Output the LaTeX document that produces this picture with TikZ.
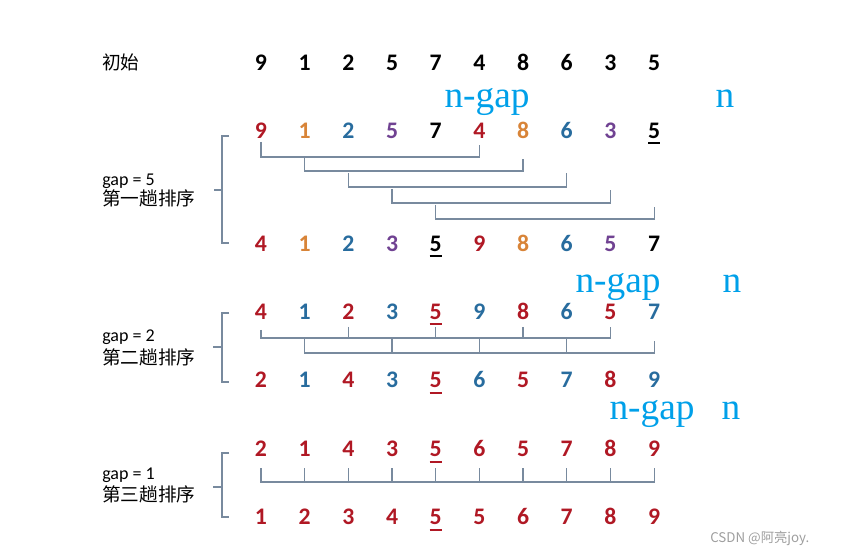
\documentclass[tikz,border=0pt]{standalone}
\usepackage{fontspec}
\newfontfamily\digfont{Carlito}
\newfontfamily\cjkfont{Noto Sans CJK SC}
\newfontfamily\gapfont{Liberation Serif}
\definecolor{dred}{RGB}{176,24,36}
\definecolor{orng}{RGB}{216,132,56}
\definecolor{dblu}{RGB}{40,108,158}
\definecolor{purp}{RGB}{112,66,146}
\definecolor{skyb}{RGB}{0,160,233}
\definecolor{lnk}{RGB}{120,138,158}
\newcommand{\udig}[1]{\setbox0\hbox{#1}\rlap{\rule[-4.5pt]{\wd0}{1.5pt}}\box0}

\tikzset{
  dig/.style={font=\digfont\bfseries\fontsize{17.8}{20}\selectfont, anchor=base, inner sep=0pt},
  lab/.style={font=\digfont\fontsize{13.5}{16}\selectfont, anchor=base west, inner sep=0pt},
  cjk/.style={font=\cjkfont\fontsize{14}{16}\selectfont, anchor=base west, inner sep=0pt},
  ngap/.style={font=\gapfont\fontsize{28}{30}\selectfont, text=skyb, anchor=base, inner sep=0pt, text height=1.1ex},
  link/.style={draw=lnk, line width=0.8pt},
}

\begin{document}
\begin{tikzpicture}[x=0.75pt, y=-0.75pt]
  \useasboundingbox (0,0) rectangle (841,555);

  % start row
  \node (init) [cjk] at (102,70) {初始};
  \foreach \d [count=\i from 0] in {9,1,2,5,7,4,8,6,3,5}
    \node (s0-\i) [dig] at ({261+43.67*\i},70.5) {\d};

  % gap = 5
  \node (g1) [ngap] at (487,108) {n-gap};
  \node (n1) [ngap] at (725,108) {n};
  \foreach \d/\c [count=\i from 0] in {9/dred,1/orng,2/dblu,5/purp,7/black,4/dred,8/orng,6/dblu,3/purp,\udig{5}/black}
    \node (s1-\i) [dig, text=\c] at ({261+43.67*\i},138.5) {\d};
  \foreach \d/\c [count=\i from 0] in {4/dred,1/orng,2/dblu,3/purp,\udig{5}/black,9/dred,8/orng,6/dblu,5/purp,7/black}
    \node (s2-\i) [dig, text=\c] at ({261+43.67*\i},251.5) {\d};
  \draw[link] (s1-0 |- 0,142) |- (s1-5 |- 0,157) -- (s1-5 |- 0,145);
  \draw[link] (s1-1 |- 0,157) |- (s1-6 |- 0,171) -- (s1-6 |- 0,159);
  \draw[link] (s1-2 |- 0,173) |- (s1-7 |- 0,187) -- (s1-7 |- 0,173);
  \draw[link] (s1-3 |- 0,189) |- (s1-8 |- 0,203) -- (s1-8 |- 0,190);
  \draw[link] (s1-4 |- 0,205) |- (s1-9 |- 0,219) -- (s1-9 |- 0,207);
  \draw[link] (229,136) -- (222,136) -- (222,243) -- (229,243);
  \draw[link] (222,190) -- (214,190);
  \node (p1) [lab] at (102,186) {gap = 5};
  \node (t1) [cjk] at (102,206) {第一趟排序};

  % gap = 2
  \node (g2) [ngap] at (618,293) {n-gap};
  \node (n2) [ngap] at (732,293) {n};
  \foreach \d/\c [count=\i from 0] in {4/dred,1/dblu,2/dred,3/dblu,\udig{5}/dred,9/dblu,8/dred,6/dblu,5/dred,7/dblu}
    \node (s3-\i) [dig, text=\c] at ({261+43.67*\i},319.5) {\d};
  \foreach \d/\c [count=\i from 0] in {2/dred,1/dblu,4/dred,3/dblu,\udig{5}/dred,6/dblu,5/dred,7/dblu,8/dred,9/dblu}
    \node (s4-\i) [dig, text=\c] at ({261+43.67*\i},387.5) {\d};
  \draw[link] (s3-0 |- 0,330) |- (s3-8 |- 0,338) -- (s3-8 |- 0,327);
  \draw[link] (s3-1 |- 0,338) |- (s3-9 |- 0,353) -- (s3-9 |- 0,341);
  \foreach \k in {2,4,6}
    \draw[link] (s3-\k |- 0,327) -- (s3-\k |- 0,338);
  \foreach \k in {3,5,7}
    \draw[link] (s3-\k |- 0,338) -- (s3-\k |- 0,353);
  \draw[link] (229,313) -- (222,313) -- (222,382) -- (229,382);
  \draw[link] (222,347) -- (213,347);
  \node (p2) [lab] at (102,342) {gap = 2};
  \node (t2) [cjk] at (102,364) {第二趟排序};

  % gap = 1
  \node (g3) [ngap] at (652,419) {n-gap};
  \node (n3) [ngap] at (731,419) {n};
  \foreach \d [count=\i from 0] in {2,1,4,3,\udig{5},6,5,7,8,9}
    \node (s5-\i) [dig, text=dred] at ({261+43.67*\i},456.5) {\d};
  \foreach \d [count=\i from 0] in {1,2,3,4,\udig{5},5,6,7,8,9}
    \node (s6-\i) [dig, text=dred] at ({261+43.67*\i},524.5) {\d};
  \draw[link] (s5-0 |- 0,468) |- (s5-9 |- 0,482) -- (s5-9 |- 0,468);
  \foreach \k in {1,...,8}
    \draw[link] (s5-\k |- 0,468) -- (s5-\k |- 0,482);
  \draw[link] (229,453) -- (222,453) -- (222,517) -- (229,517);
  \draw[link] (222,487) -- (213,487);
  \node (p3) [lab] at (102,479) {gap = 1};
  \node (t3) [cjk] at (102,501) {第三趟排序};

  \node (wm) [font=\cjkfont\fontsize{10}{12}\selectfont, text=black!38, anchor=west, inner sep=0pt] at (710,538) {CSDN @阿亮joy.};
\end{tikzpicture}
\end{document}
